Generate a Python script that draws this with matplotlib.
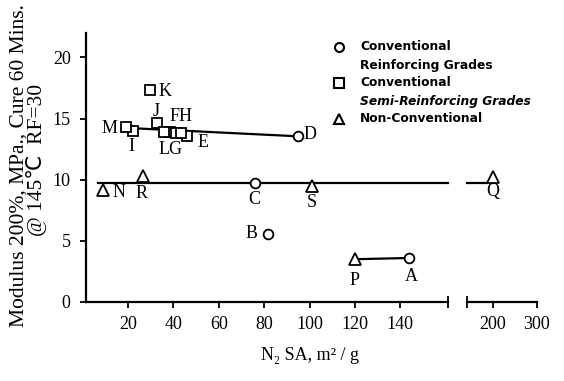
import matplotlib
matplotlib.use("Agg")
import matplotlib.pyplot as plt
from matplotlib.lines import Line2D

W, H = 564, 381

# Conventional reinforcing grades (circles)
reinf_labels = ["A", "B", "C", "D"]
reinf_x = [144, 81.5, 76, 95]
reinf_y = [3.6, 5.6, 9.75, 13.6]

# Conventional semi-reinforcing grades (squares)
semi_labels = ["E", "F", "G", "H", "I", "J", "K", "L", "M"]
semi_x = [46, 38.5, 41, 43.5, 22, 32.7, 29.5, 36, 19]
semi_y = [13.6, 13.9, 13.8, 13.8, 14.0, 14.6, 17.3, 13.9, 14.3]

# Non-conventional (triangles); Q sits on the broken segment of the axis
nonconv_labels = ["N", "P", "R", "S", "Q"]
nonconv_x = [9, 120, 26.5, 101, 200]
nonconv_y = [9.2, 3.5, 10.3, 9.5, 10.2]

# Trend lines
upper_x = [18, 95]
upper_y = [14.25, 13.55]
mid_y = 9.75
mid_x_main = [7, 161]
mid_x_right = [141, 200]
low_x = [120, 144]
low_y = [3.5, 3.6]

xticks_main = [20, 40, 60, 80, 100, 120, 140]
xticks_right = [200, 300]
yticks = [0, 5, 10, 15, 20]

# label offsets (pixels) per point
offsets = {
    "A": (2, -19), "B": (-16, 0), "C": (-1, -17), "D": (12, 1),
    "E": (16, -7), "F": (11, 16), "G": (-5, -16), "H": (0, 0),
    "I": (-1, -16), "J": (-1, 12), "K": (15, -1), "L": (0, 0),
    "M": (-16, -1), "N": (16, -3), "P": (0, -21), "R": (-1, -17),
    "S": (0, -17), "Q": (0, -14),
}

serif = "Liberation Serif"

fig = plt.figure(figsize=(W / 100, H / 100), dpi=100)

def fx(px):
    return px / W

def fy(py):
    return 1 - py / H

ax = fig.add_axes([fx(86), fy(302), fx(448) - fx(86), fy(33) - fy(302)])
ax2 = fig.add_axes([fx(467), fy(302), fx(537) - fx(467), fy(33) - fy(302)])

for a in (ax, ax2):
    a.set_ylim(0, 22)
    a.patch.set_alpha(0)
    for s in ("top", "right"):
        a.spines[s].set_visible(False)
    a.spines["bottom"].set_linewidth(1.6)

ax.set_xlim(1.5, 161)
ax2.set_xlim(141, 300)
ax2.spines["left"].set_visible(False)
ax.spines["left"].set_linewidth(1.6)
ax2.set_yticks([])

ax.set_xticks(xticks_main)
ax.set_yticks(yticks)
ax2.set_xticks(xticks_right)
ax.set_xticks([161], minor=True)
ax2.set_xticks([141], minor=True)
for a in (ax, ax2):
    a.tick_params(which="major", direction="out", length=4, width=1.3,
                  labelsize=13, pad=6)
    a.tick_params(which="minor", direction="inout", length=9, width=1.3)
    for lab in a.get_xticklabels() + a.get_yticklabels():
        lab.set_family(serif)
ax.tick_params(axis="y", pad=7)

mk = dict(color="black", mfc="white", mec="black", mew=1.3, ls="none",
          clip_on=False, zorder=3)

ax.plot(upper_x, upper_y, color="black", lw=1.6, zorder=2)
ax.plot(mid_x_main, [mid_y, mid_y], color="black", lw=1.6, zorder=2, clip_on=False)
ax2.plot(mid_x_right, [mid_y, mid_y], color="black", lw=1.6, zorder=2, clip_on=False)
ax.plot(low_x, low_y, color="black", lw=1.6, zorder=2)

ax.plot(reinf_x, reinf_y, marker="o", ms=7, **mk)
ax.plot(semi_x, semi_y, marker="s", ms=7, **mk)
main_nc = [i for i, v in enumerate(nonconv_x) if v <= 161]
ax.plot([nonconv_x[i] for i in main_nc], [nonconv_y[i] for i in main_nc],
        marker="^", ms=8.5, **mk)
ax2.plot([v for v in nonconv_x if v > 161],
         [nonconv_y[i] for i, v in enumerate(nonconv_x) if v > 161],
         marker="^", ms=8.5, **mk)

def put(a, lab, x, y):
    dx, dy = offsets[lab]
    if lab in ("H", "L"):
        return
    text = lab
    if lab == "F":
        text = "FH"
    elif lab == "G":
        text = "LG"
    a.annotate(text, (x, y), xytext=(dx, dy), textcoords="offset pixels",
               ha="center", va="center", fontsize=13, family=serif,
               annotation_clip=False)

for lab, x, y in zip(reinf_labels, reinf_x, reinf_y):
    put(ax, lab, x, y)
for lab, x, y in zip(semi_labels, semi_x, semi_y):
    put(ax, lab, x, y)
for lab, x, y in zip(nonconv_labels, nonconv_x, nonconv_y):
    put(ax2 if x > 161 else ax, lab, x, y)

# legend, laid out by hand
leg_font = dict(fontsize=8.8, family="DejaVu Sans", fontweight="bold",
                va="center", ha="left")
leg = [("o", 47, ["Conventional", "Reinforcing Grades"], False),
       ("s", 83, ["Conventional", "Semi-Reinforcing Grades"], True),
       ("^", 119, ["Non-Conventional"], False)]
for m, py, lines, ital in leg:
    fig.add_artist(Line2D([fx(339)], [fy(py)], marker=m, ms=6.5 if m != "^" else 7.5,
                          mfc="white", mec="black", mew=1.5, ls="none"))
    for k, t in enumerate(lines):
        style = "italic" if (ital and k == 1) else "normal"
        fig.text(fx(360), fy(py + 18 * k), t, style=style, **leg_font)

fig.text(fx(19), fy(166), "Modulus 200%, MPa., Cure 60 Mins.", rotation=90,
         ha="center", va="center", fontsize=15.5, family=serif)
fig.text(fx(37), fy(160), "@ 145\u2103  RF=30", rotation=90,
         ha="center", va="center", fontsize=15.5, family=[serif, "DejaVu Sans"])
fig.text(fx(310), fy(356), "N\u2082 SA, m\u00b2 / g", ha="center", va="center",
         fontsize=13, family=[serif, "DejaVu Sans"])

fig.savefig("out.png", dpi=100)
